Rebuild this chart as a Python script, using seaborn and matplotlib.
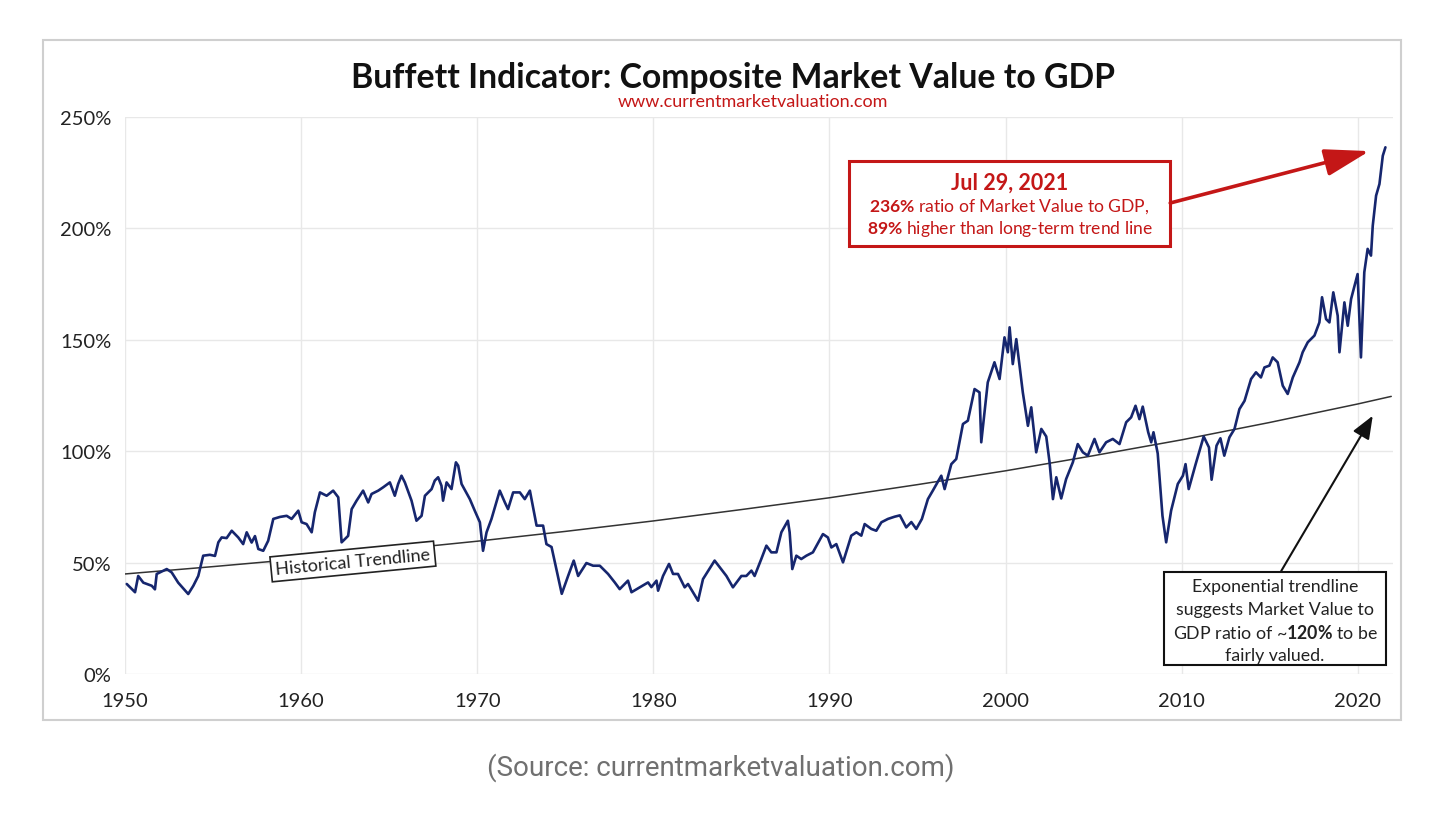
import seaborn as sns
import matplotlib
matplotlib.use("Agg")
from matplotlib import pyplot as plt
from matplotlib.patches import Rectangle

# Buffett indicator, values (% of GDP)
years = [1950.10, 1950.57, 1950.75, 1951.04, 1951.52, 1951.70, 1951.80, 1952.37, 1952.65, 1953.02,
         1953.59, 1953.88, 1954.16, 1954.44, 1954.82, 1955.11, 1955.30, 1955.49, 1955.77, 1956.06,
         1956.43, 1956.71, 1956.91, 1957.19, 1957.38, 1957.57, 1957.85, 1958.13, 1958.42, 1958.80,
         1959.18, 1959.46, 1959.84, 1960.03, 1960.31, 1960.60, 1960.78, 1961.07, 1961.45, 1961.82,
         1962.11, 1962.30, 1962.49, 1962.67, 1962.87, 1963.15, 1963.52, 1963.81, 1964.00, 1964.38,
         1964.66, 1965.04, 1965.32, 1965.51, 1965.70, 1965.89, 1966.27, 1966.55, 1966.84, 1967.03,
         1967.41, 1967.59, 1967.78, 1967.97, 1968.06, 1968.26, 1968.54, 1968.79, 1968.92, 1969.11,
         1969.58, 1969.86, 1970.15, 1970.33, 1970.53, 1970.81, 1971.28, 1971.57, 1971.75, 1972.04,
         1972.42, 1972.70, 1972.99, 1973.37, 1973.74, 1973.93, 1974.22, 1974.80, 1975.16, 1975.48,
         1975.73, 1976.20, 1976.58, 1976.96, 1977.43, 1977.81, 1978.09, 1978.56, 1978.76, 1979.23,
         1979.70, 1979.89, 1980.18, 1980.27, 1980.55, 1980.89, 1981.12, 1981.40, 1981.78, 1981.97,
         1982.25, 1982.54, 1982.82, 1983.48, 1983.77, 1984.15, 1984.52, 1985.00, 1985.28, 1985.57,
         1985.75, 1986.13, 1986.42, 1986.70, 1986.99, 1987.27, 1987.64, 1987.74, 1987.89, 1988.12,
         1988.40, 1988.69, 1989.06, 1989.63, 1989.91, 1990.11, 1990.39, 1990.77, 1991.24, 1991.53,
         1991.81, 1992.00, 1992.38, 1992.66, 1992.95, 1993.32, 1993.70, 1994.00, 1994.36, 1994.65,
         1994.93, 1995.25, 1995.59, 1995.87, 1996.35, 1996.54, 1996.92, 1997.20, 1997.58, 1997.86,
         1998.24, 1998.52, 1998.62, 1998.99, 1999.37, 1999.66, 1999.94, 2000.13, 2000.23, 2000.41,
         2000.61, 2000.98, 2001.27, 2001.46, 2001.74, 2002.03, 2002.31, 2002.50, 2002.69, 2002.88,
         2003.16, 2003.44, 2003.82, 2004.10, 2004.39, 2004.67, 2005.05, 2005.33, 2005.71, 2006.09,
         2006.47, 2006.85, 2007.13, 2007.38, 2007.60, 2007.79, 2008.10, 2008.27, 2008.40, 2008.64,
         2008.91, 2009.12, 2009.40, 2009.78, 2010.07, 2010.22, 2010.40, 2010.78, 2011.25, 2011.55,
         2011.70, 2011.98, 2012.20, 2012.42, 2012.71, 2013.00, 2013.28, 2013.57, 2013.94, 2014.22,
         2014.50, 2014.70, 2014.98, 2015.17, 2015.45, 2015.74, 2016.02, 2016.31, 2016.69, 2016.87,
         2017.16, 2017.54, 2017.82, 2017.97, 2018.20, 2018.39, 2018.61, 2018.86, 2018.96, 2019.24,
         2019.43, 2019.62, 2019.99, 2020.18, 2020.37, 2020.56, 2020.75, 2020.85, 2021.04, 2021.23,
         2021.42, 2021.57]
ratio = [40.4, 36.7, 44.0, 41.0, 39.6, 38.0, 44.9, 47.1, 45.6, 41.0,
         35.9, 39.6, 44.0, 53.1, 53.5, 53.0, 59.1, 61.3, 61.0, 64.3,
         61.3, 58.3, 63.6, 59.0, 61.9, 56.1, 55.3, 59.8, 69.6, 70.5,
         71.0, 69.6, 73.3, 68.1, 67.3, 63.6, 72.6, 81.5, 80.0, 82.3,
         79.3, 59.1, 60.6, 62.0, 74.0, 77.8, 82.3, 77.0, 80.8, 82.3,
         83.8, 86.0, 80.0, 85.3, 89.0, 86.0, 77.8, 68.8, 71.0, 80.0,
         83.0, 86.8, 88.3, 84.5, 77.8, 86.0, 83.0, 95.0, 93.5, 85.3,
         78.5, 73.3, 68.1, 55.3, 63.6, 69.6, 82.3, 77.0, 74.0, 81.5,
         81.5, 78.5, 82.3, 66.6, 66.6, 58.3, 57.0, 36.0, 44.0, 50.9,
         44.0, 49.8, 48.6, 48.6, 44.9, 41.1, 38.1, 41.9, 36.7, 38.9,
         41.1, 39.0, 41.9, 37.4, 44.0, 49.4, 44.9, 44.9, 38.9, 40.4,
         36.7, 32.9, 42.6, 50.9, 47.9, 44.0, 38.9, 44.0, 44.0, 46.4,
         44.0, 51.6, 57.6, 54.6, 54.6, 63.6, 68.8, 63.6, 47.1, 53.1,
         51.6, 53.1, 54.6, 62.8, 61.3, 56.8, 58.3, 50.1, 62.1, 63.6,
         62.1, 67.3, 65.1, 64.3, 68.1, 69.6, 70.6, 71.2, 65.8, 68.2,
         65.1, 69.6, 78.5, 82.3, 89.0, 83.0, 94.2, 96.5, 112.2, 113.7,
         127.9, 126.4, 104.0, 130.9, 139.9, 132.4, 151.1, 144.4, 155.6, 139.1,
         150.3, 126.4, 111.4, 119.7, 99.5, 110.0, 106.6, 95.0, 78.5, 88.3,
         78.8, 87.5, 95.0, 103.2, 99.5, 98.0, 105.5, 99.5, 104.0, 105.5,
         103.2, 113.0, 115.2, 120.4, 114.4, 120.0, 108.5, 104.0, 108.5, 99.0,
         71.0, 59.1, 73.3, 85.3, 89.0, 94.2, 83.0, 93.8, 106.6, 101.7,
         87.2, 102.5, 105.8, 98.0, 106.2, 110.0, 118.9, 122.6, 132.4, 135.4,
         133.1, 137.6, 138.4, 142.1, 139.9, 129.4, 125.7, 133.1, 139.9, 144.4,
         148.9, 151.9, 157.8, 169.1, 159.3, 157.8, 171.3, 160.8, 144.4, 166.8,
         156.3, 168.3, 179.5, 142.1, 180.3, 190.8, 187.8, 201.2, 214.7, 219.9,
         232.6, 236.4]

# exponential historical trendline
trend_years = [1950, 1955, 1960, 1965, 1970, 1975, 1980, 1985, 1990, 1995,
               2000, 2005, 2010, 2015, 2020, 2021.9]
trend_vals = [44.9, 48.2, 51.7, 55.6, 59.6, 64.0, 68.7, 73.8, 79.1, 85.0,
              91.2, 98.0, 105.1, 112.9, 121.2, 124.6]

x_ticks = [1950, 1960, 1970, 1980, 1990, 2000, 2010, 2020]
y_ticks = [0, 50, 100, 150, 200, 250]
y_labels = ["0%", "50%", "100%", "150%", "200%", "250%"]

navy = "#16266e"
red = "#c41717"

sns.set_style("whitegrid", {"grid.color": "#e8e8e8"})
plt.rcParams["font.family"] = ["Lato", "DejaVu Sans"]
plt.rcParams["mathtext.fontset"] = "custom"
plt.rcParams["mathtext.rm"] = "Lato"
plt.rcParams["mathtext.bf"] = "Lato:bold"

fig = plt.figure(figsize=(14.42, 8.2), dpi=100)
ax = fig.add_axes([125 / 1442, 1 - 675 / 820, 1268 / 1442, 557 / 820])

sns.lineplot(x=trend_years, y=trend_vals, ax=ax, color="#333333", linewidth=1.1, zorder=2)
sns.lineplot(x=years, y=ratio, ax=ax, color=navy, linewidth=1.9, estimator=None, zorder=3)

ax.set_xlim(1950, 2022)
ax.set_ylim(0, 250)
ax.set_xticks(x_ticks)
ax.set_yticks(y_ticks)
ax.set_yticklabels(y_labels)
ax.tick_params(axis="both", length=0, labelsize=14.5, labelcolor="#222222")
ax.tick_params(axis="y", pad=10)
ax.tick_params(axis="x", pad=13)
ax.grid(True, linewidth=1.0)
for s in ax.spines.values():
    s.set_visible(False)

# outer frame
fig.patches.append(Rectangle((43 / 1442, 1 - 721 / 820), 1358 / 1442, 680 / 820,
                             transform=fig.transFigure, fill=False,
                             edgecolor="#cfcfcf", linewidth=1.5))

fig.text(733 / 1442, 1 - 78 / 820, "Buffett Indicator: Composite Market Value to GDP",
         ha="center", va="center", fontsize=24.3, fontweight="bold", color="#111111")
fig.text(753 / 1442, 1 - 102 / 820, "www.currentmarketvaluation.com",
         ha="center", va="center", fontsize=13, color=red)

# historical trendline label
ax.text(1962.94, 50.5, "Historical Trendline", rotation=5.5, rotation_mode="anchor",
        ha="center", va="center", fontsize=13, color="#222222", zorder=5,
        bbox=dict(boxstyle="square,pad=0.25", fc="white", ec="#222222", lw=1.2))

# red callout
ax.add_patch(Rectangle((1991.09, 192.2), 18.26, 38.2, facecolor="white",
                       edgecolor=red, linewidth=2.2, zorder=5, clip_on=False))
ax.text(2000.22, 220.8, "Jul 29, 2021", ha="center", va="center", fontsize=15.5,
        fontweight="bold", color=red, zorder=6)
ax.text(2000.22, 210.0, r"$\mathbf{236\%}$ ratio of Market Value to GDP,", ha="center",
        va="center", fontsize=12.6, color=red, zorder=6)
ax.text(2000.22, 200.2, r"$\mathbf{89\%}$ higher than long-term trend line", ha="center",
        va="center", fontsize=12.6, color=red, zorder=6)
ax.annotate("", xy=(2020.66, 234.7), xytext=(2009.35, 211.4), zorder=6,
            arrowprops=dict(arrowstyle="-|>,head_length=1.25,head_width=0.38",
                            mutation_scale=22, color=red, lw=2.6, shrinkA=0, shrinkB=0))

# black callout
ax.add_patch(Rectangle((2009.02, 4.0), 12.58, 41.9, facecolor="white",
                       edgecolor="#111111", linewidth=1.5, zorder=5, clip_on=False))
box_lines = ["Exponential trendline", "suggests Market Value to",
             r"GDP ratio of ~$\mathbf{120\%}$ to be", "fairly valued."]
for txt, yv in zip(box_lines, [39.5, 29.2, 18.9, 8.5]):
    ax.text(2015.3, yv, txt, ha="center", va="center", fontsize=12.8,
            color="#222222", zorder=6)
ax.annotate("", xy=(2020.85, 115.9), xytext=(2015.65, 46.2), zorder=6,
            arrowprops=dict(arrowstyle="-|>,head_length=1.0,head_width=0.4",
                            mutation_scale=14, color="#111111", lw=1.5, shrinkA=0, shrinkB=0))

fig.text(721 / 1442, 1 - 768 / 820, "(Source: currentmarketvaluation.com)",
         ha="center", va="center", fontsize=20, color="#707070", family=["Roboto", "DejaVu Sans"])

plt.savefig("out.png", dpi=100)
